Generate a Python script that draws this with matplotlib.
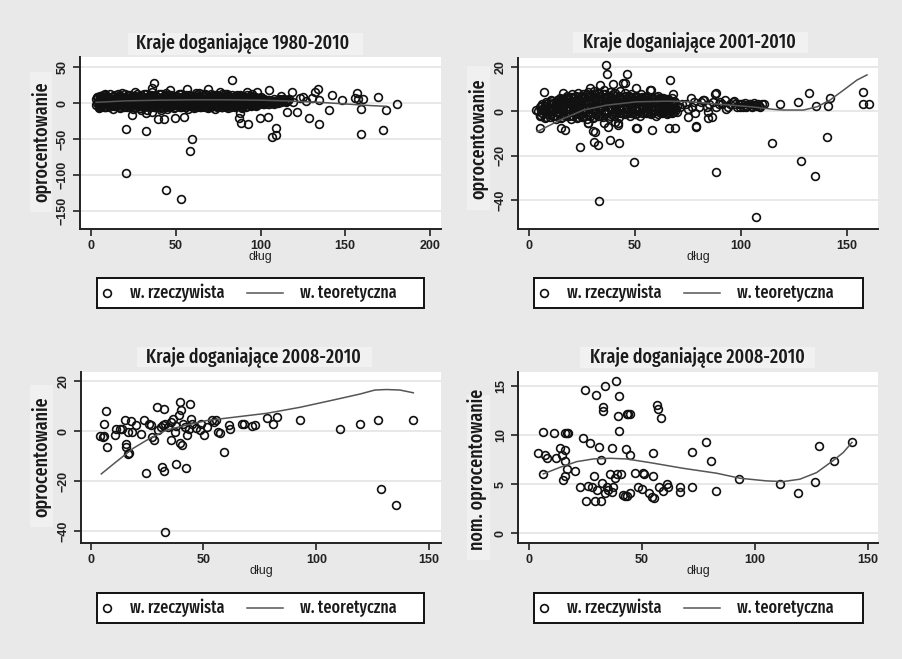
import matplotlib
matplotlib.use("Agg")
import matplotlib.pyplot as plt
from matplotlib.lines import Line2D
from matplotlib.patches import Rectangle

# ---- data ----

# panel 1: 1980-2010, dense cloud + scattered points
p1_cloud_x = [4, 7, 10, 13, 16, 19, 22, 25, 28, 31, 34, 37, 40, 43, 46, 49, 52, 55, 58, 61, 64, 67, 70, 73, 76, 79, 82, 85, 88, 91, 94, 97, 100,
              5.2, 8.2, 11.2, 14.2, 17.2, 20.2, 23.2, 26.2, 29.2, 32.2, 35.2, 38.2, 41.2, 44.2, 47.2, 50.2, 53.2, 56.2, 59.2, 62.2, 65.2, 68.2, 71.2, 74.2, 77.2, 80.2, 83.2, 86.2, 89.2, 92.2, 95.2,
              3.8, 6.8, 9.8, 12.8, 15.8, 18.8, 21.8, 24.8, 27.8, 30.8, 33.8, 36.8, 39.8, 42.8, 45.8, 48.8, 51.8, 54.8, 57.8, 60.8, 63.8, 66.8, 69.8, 72.8, 75.8, 78.8, 81.8, 84.8, 87.8, 90.8, 93.8, 96.8, 99.8,
              5.5, 8.5, 11.5, 14.5, 17.5, 20.5, 23.5, 26.5, 29.5, 32.5, 35.5, 38.5, 41.5, 44.5, 47.5, 50.5, 53.5, 56.5, 59.5, 62.5, 65.5, 68.5, 71.5, 74.5, 77.5, 80.5, 83.5, 86.5, 89.5, 92.5, 95.5, 98.5, 101.5,
              3, 6, 9, 12, 15, 18, 21, 24, 27, 30, 33, 36, 39, 42, 45, 48, 51, 54, 57, 60, 63, 66, 69, 72, 75, 78, 81, 84, 87, 90, 93, 96, 99, 102, 105, 108, 111, 114, 117,
              5.2, 8.2, 11.2, 14.2, 17.2, 20.2, 23.2, 26.2, 29.2, 32.2, 35.2, 38.2, 41.2, 44.2, 47.2, 50.2, 53.2, 56.2, 59.2, 62.2, 65.2, 68.2, 71.2, 74.2, 77.2, 80.2, 83.2, 86.2, 89.2, 92.2, 95.2, 98.2, 101.2, 104.2, 107.2, 110.2, 113.2, 116.2,
              4.5, 7.5, 10.5, 13.5, 16.5, 19.5, 22.5, 25.5, 28.5, 31.5, 34.5, 37.5, 40.5, 43.5, 46.5, 49.5, 52.5, 55.5, 58.5, 61.5, 64.5, 67.5, 70.5, 73.5, 76.5, 79.5, 82.5, 85.5, 88.5, 91.5, 94.5, 97.5, 100.5, 103.5, 106.5, 109.5, 112.5, 115.5,
              4, 7, 10, 13, 16, 19, 22, 25, 28, 31, 34, 37, 40, 43, 46, 49, 52, 55, 58, 61, 64, 67, 70, 73, 76, 79, 82, 85, 88, 91, 94, 97, 100, 103, 106, 109, 112, 115, 119,
              3.8, 6.8, 9.8, 12.8, 15.8, 18.8, 21.8, 24.8, 27.8, 30.8, 33.8, 36.8, 39.8, 42.8, 45.8, 48.8, 51.8, 54.8, 57.8, 60.8, 63.8, 66.8, 69.8, 72.8, 75.8, 78.8, 81.8, 84.8, 87.8, 90.8, 93.8, 96.8, 99.8, 102.8, 105.8, 108.8, 111.8, 114.8,
              5.5, 8.5, 11.5, 14.5, 17.5, 20.5, 23.5, 26.5, 29.5, 32.5, 35.5, 38.5, 41.5, 44.5, 47.5, 50.5, 53.5, 56.5, 59.5, 62.5, 65.5, 68.5, 71.5, 74.5, 77.5, 80.5, 83.5, 86.5, 89.5, 92.5, 95.5, 98.5, 101.5, 104.5, 107.5, 110.5,
              3, 6, 9, 12, 15, 18, 21, 24, 27, 30, 33, 36, 39, 42, 45, 48, 51, 54, 57, 60, 63, 66, 69, 72, 75, 78, 81, 84, 87, 90, 93, 96, 99, 102, 105, 108,
              5.2, 8.2, 11.2, 14.2, 17.2, 20.2, 23.2, 26.2, 29.2, 32.2, 35.2, 38.2, 41.2, 44.2, 47.2, 50.2, 53.2, 56.2, 59.2, 62.2, 65.2, 68.2, 71.2, 74.2, 77.2, 80.2, 83.2, 86.2, 89.2, 92.2, 95.2, 98.2, 101.2,
              4.5, 7.5, 10.5, 13.5, 16.5, 19.5, 22.5, 25.5, 28.5, 31.5, 34.5, 37.5, 40.5, 43.5, 46.5, 49.5, 52.5, 55.5, 58.5, 61.5, 64.5, 67.5, 70.5, 73.5, 76.5, 79.5, 82.5, 85.5, 88.5, 91.5, 94.5, 97.5,
              5, 9, 13, 17, 21, 25, 29, 33, 37, 41, 45, 49, 53, 57, 61, 65, 69, 73, 77, 81, 85, 89,
              8, 18, 27, 36, 44, 53, 62, 71, 80]
p1_cloud_y = [9, 11, 8, 10, 12, 9, 11, 10, 8, 12, 10, 9, 13, 10, 11, 9, 12, 10, 11, 9, 10, 12, 9, 11, 10, 12, 9, 10, 11, 9, 10, 8, 9,
              10, 11, 12, 11, 10, 12, 11, 10, 11, 12, 11, 10, 12, 11, 11, 10, 12, 11, 10, 11, 12, 11, 10, 11, 12, 10, 11, 11, 10, 11, 10,
              8, 9, 7, 8, 9, 8, 7, 9, 8, 8, 9, 7, 8, 9, 8, 7, 9, 8, 8, 9, 7, 8, 9, 8, 7, 9, 8, 8, 9, 7, 8, 8, 7,
              7, 8, 6, 7, 8, 7, 6, 8, 7, 7, 8, 6, 7, 8, 7, 6, 8, 7, 7, 8, 6, 7, 8, 7, 6, 8, 7, 7, 8, 6, 7, 7, 6,
              5, 6, 4, 5, 6, 5, 4, 6, 5, 4, 6, 5, 5, 4, 6, 5, 4, 6, 5, 5, 4, 6, 5, 4, 6, 5, 5, 4, 6, 5, 4, 5, 6, 5, 4, 6, 5, 6, 5,
              4, 3, 5, 4, 4, 3, 5, 4, 3, 4, 5, 4, 3, 4, 5, 4, 4, 3, 5, 4, 4, 3, 4, 5, 4, 3, 4, 4, 5, 3, 4, 4, 5, 4, 3, 4, 5, 4,
              3, 2, 4, 3, 3, 2, 4, 3, 2, 3, 4, 3, 2, 3, 4, 3, 3, 2, 4, 3, 3, 2, 3, 4, 3, 2, 3, 3, 4, 2, 3, 3, 4, 3, 2, 3, 4, 3,
              1, 0, 2, 1, 0, 2, 1, -1, 1, 2, 0, 1, 2, 0, 1, 1, 2, 0, 1, 2, 1, 0, 2, 1, 0, 1, 2, 1, 0, 2, 1, 1, 2, 1, 0, 2, 1, 3, 2,
              0, 1, -1, 0, 0, 1, -1, 0, 1, 0, -1, 0, 1, 0, 0, -1, 1, 0, 0, 1, 0, -1, 0, 1, 0, 0, -1, 1, 0, 0, 1, 0, 1, 0, 1, 1, 2, 2,
              -1, -2, 0, -1, -1, -2, 0, -1, -2, -1, 0, -1, -2, -1, -1, 0, -2, -1, -1, 0, -1, -2, -1, 0, -1, -1, -2, 0, -1, -1, 0, -1, 0, -1, 0, 0,
              -3, -4, -2, -3, -4, -3, -2, -4, -3, -3, -4, -2, -3, -4, -3, -2, -3, -4, -3, -2, -3, -4, -3, -2, -4, -3, -3, -2, -4, -3, -2, -3, -2, -1, -2, -1,
              -4, -5, -3, -4, -5, -4, -3, -5, -4, -4, -5, -3, -4, -5, -4, -3, -4, -5, -4, -3, -4, -5, -4, -3, -5, -4, -4, -3, -5, -4, -3, -3, -2,
              -5, -6, -5, -4, -6, -5, -5, -6, -4, -5, -6, -5, -5, -4, -6, -5, -5, -6, -4, -5, -5, -6, -5, -4, -5, -6, -5, -4, -5, -5, -4, -4,
              -7, -6, -8, -7, -6, -8, -7, -9, -6, -7, -8, -7, -6, -8, -7, -6, -7, -8, -6, -7, -6, -7,
              13, 14, 12, 15, 14, 13, 14, 12, 13]
p1_x = [20.6, 20.6, 24.2, 32.3, 32.3, 37.4, 35.8, 39.3, 43.3, 44.2, 49.6, 46.6, 52.9, 55.1, 56.4, 59.4, 58.4, 69.2, 83.4, 87.5,
        88.3, 92.8, 99.7, 104.6, 105.2, 106.6, 109.1, 109.1, 115.4, 121.3, 118.8, 128.8, 134.7, 132.2, 134.1, 134.7, 140.6, 142, 147.9, 157.1,
        157.7, 159.1, 159.1, 160.7, 169.1, 172.5, 174, 180.7, 87.9, 74.1, 98.1, 91.8, 62.3, 116.4, 123.3, 130.2, 155.8, 29.3, 36, 41,
        26, 64, 76, 95, 112, 125, 127]
p1_y = [-97.7, -36.6, -16.7, -38.9, -13.4, 27.3, 20.4, -22.7, -22.7, -120.8, -21.3, 18, -133.8, -19, 19, -50.5, -66.7, 19, 31.9, -21.3,
        -27.3, -29.2, -21.3, -19.9, 18, -46.8, -35.2, -44.4, -12, -12, 15.7, -21.3, -29.2, 15.7, 19, 4.2, -9.7, 11.1, 4.2, 14.4,
        5.1, -8.3, -43.5, 5.1, 8.8, -37.5, -9.7, -1.9, -13.4, -6, 15.7, 15.7, -6, 4.2, 7.4, 7.4, 7.4, -9.7, -12, -10,
        15, 14, 16, 12, 10, 9, 3]
p1_fit_x = [3, 20, 40, 60, 80, 100, 115, 125, 135, 145, 155, 165, 174]
p1_fit_y = [1, 3, 4, 4.5, 4.5, 4, 3, 2, 1, -0.5, -2, -3.5, -4.5]

# panel 2: 2001-2010
p2_cloud_x = [5, 7.5, 10, 12.5, 15, 17.5, 20, 22.5, 25, 27.5, 30, 32.5, 35, 37.5, 40, 42.5, 45, 47.5, 50, 52.5, 55, 57.5, 60, 62.5, 65, 67.5, 70,
              5.6, 8.1, 10.6, 13.1, 15.6, 18.1, 20.6, 23.1, 25.6, 28.1, 30.6, 33.1, 35.6, 38.1, 40.6, 43.1, 45.6, 48.1, 50.6, 53.1, 55.6, 58.1, 60.6, 63.1, 65.6, 68.1,
              6.25, 8.75, 11.25, 13.75, 16.25, 18.75, 21.25, 23.75, 26.25, 28.75, 31.25, 33.75, 36.25, 38.75, 41.25, 43.75, 46.25, 48.75, 51.25, 53.75, 56.25, 58.75, 61.25, 63.75, 66.25, 68.75,
              4, 6, 8.5, 11, 13.5, 16, 18.5, 21, 23.5, 26, 28.5, 31, 33.5, 36, 38.5, 41, 43.5, 46, 48.5, 51, 53.5, 56, 58.5, 61, 63.5, 66, 68.5,
              5.6, 8.1, 10.6, 13.1, 15.6, 18.1, 20.6, 23.1, 25.6, 28.1, 30.6, 33.1, 35.6, 38.1, 40.6, 43.1, 45.6, 48.1, 50.6, 53.1, 55.6, 58.1, 60.6, 63.1, 65.6, 68.1,
              6.25, 8.75, 11.25, 13.75, 16.25, 18.75, 21.25, 23.75, 26.25, 28.75, 31.25, 33.75, 36.25, 38.75, 41.25, 43.75, 46.25, 48.75, 51.25, 53.75, 56.25, 58.75, 61.25, 63.75, 66.25, 68.75,
              5, 7.5, 10, 12.5, 15, 17.5, 20, 22.5, 25, 27.5, 30, 32.5, 35, 37.5, 40, 42.5, 45, 47.5, 50, 52.5, 55, 57.5, 60, 62.5, 65, 67.5, 70,
              5.6, 8.1, 10.6, 13.1, 15.6, 18.1, 20.6, 23.1, 25.6, 28.1, 30.6, 33.1, 35.6, 38.1, 40.6, 43.1, 45.6, 48.1, 50.6, 53.1, 55.6, 58.1, 60.6, 63.1, 65.6, 68.1,
              6.25, 8.75, 11.25, 13.75, 16.25, 18.75, 21.25, 23.75, 26.25, 28.75, 31.25, 33.75, 36.25, 38.75, 41.25, 43.75, 46.25, 48.75, 51.25, 53.75, 56.25, 58.75, 61.25, 63.75, 66.25, 68.75,
              8, 11, 13.5, 16, 18.5, 21, 23.5, 26, 28.5, 31, 33.5, 36, 38.5, 41, 43.5, 46, 48.5, 51, 53.5, 56, 58.5, 61, 63.5, 66, 68.5,
              10.6, 13.1, 15.6, 18.1, 20.6, 23.1, 25.6, 28.1, 30.6, 33.1, 35.6, 38.1, 40.6, 43.1, 45.6, 48.1, 50.6, 53.1, 55.6, 58.1, 60.6, 63.1, 65.6,
              14.75, 17.25, 19.75, 22.25, 24.75, 27.25, 29.75, 32.25, 34.75, 37.25, 39.75, 42.25, 44.75, 47.25, 49.75, 52.25, 54.75, 57.25, 59.75, 62.25, 64.75, 67.25,
              18, 20.5, 23, 25.5, 28, 30.5, 33, 35.5, 38, 40.5, 43, 45.5, 48, 50.5, 53, 55.5, 58, 61,
              72, 75, 78, 80, 82, 85, 88, 90, 93, 95, 96, 98, 100, 101, 102, 103, 104, 105, 106, 107, 108, 109, 110,
              71, 74, 77, 81, 84, 87, 91, 94, 97, 99, 100.5, 102.5, 104.5, 106.5, 108.5]
p2_cloud_y = [-2, -3, -2.5, -3.5, -3, -2, -3.5, -3, -2.5, -3.5, -3, -2, -2.5, -3, -2, -2.5, -1.5, -2, -1.5, -2, -1, -1.5, -2, -1, -1.5, -1, -0.5,
              -2, -2.5, -1.5, -2, -2.5, -1.5, -2, -2.5, -2, -1.5, -2.5, -2, -1.5, -2, -1.5, -1, -1.5, -1, -1.5, -1, -0.5, -1, -1.5, -0.5, -1, -0.5,
              -1, -1.5, -2, -1, -1.5, -2, -1, -1.5, -1, -2, -1.5, -1, -1, -1.5, -0.5, -1, -0.5, -1, 0, -0.5, -1, 0, -0.5, 0, -0.5, 0,
              0, 0.5, -0.5, 0, 1, 0.5, 0, 1, 0.5, 0, 1.5, 0.5, 1, 0, 1.5, 1, 0.5, 1.5, 1, 0.5, 1.5, 1, 0.5, 1, 1.5, 0.5, 1,
              0.5, 1, 0.5, 1, 0.5, 1, 1.5, 1, 0.5, 1, 1.5, 1, 0.5, 1.5, 1, 1.5, 1, 0.5, 1.5, 1, 1.5, 1, 0.5, 1.5, 1, 1.5,
              1, 1.5, 1, 2, 1.5, 1, 2, 2.5, 1.5, 2, 2.5, 2, 2.5, 1.5, 2, 2.5, 2, 2.5, 2, 1.5, 2.5, 2, 1.5, 2, 2.5, 1.5,
              2, 2.5, 1.5, 3, 2.5, 2, 3, 3.5, 2.5, 3, 4, 3, 3.5, 4, 3, 3.5, 4, 3, 3.5, 4, 3, 3.5, 4, 3, 3.5, 3, 2.5,
              2.5, 3, 3, 3.5, 3, 3.5, 4, 4, 3.5, 4, 4.5, 4, 4.5, 4, 4.5, 4, 4.5, 4, 4, 4.5, 4, 3.5, 4, 3.5, 4, 3.5,
              3, 3.5, 3.5, 4, 4.5, 4, 4.5, 5, 4.5, 5, 5.5, 5, 5.5, 5, 5.5, 5, 4.5, 5, 4.5, 5, 4.5, 4, 4.5, 4, 4.5, 4,
              4, 4.5, 5, 5.5, 5, 6, 5.5, 6, 6.5, 6, 5.5, 6.5, 6, 5.5, 6, 5.5, 6, 5, 5.5, 5, 5.5, 5, 5.5, 5, 4.5,
              5, 5, 5.5, 6, 6.5, 6.5, 7, 7, 7.5, 7, 7.5, 7, 7, 6.5, 7, 6.5, 6, 6.5, 6, 6, 5.5, 6, 5.5,
              6, 6, 6.5, 7, 6.5, 7.5, 7, 8, 7.5, 7, 7.5, 7, 6.5, 7, 6.5, 6, 6.5, 6, 6.5, 6, 5.5, 6,
              7, 7.5, 8, 7.5, 8.5, 9, 8, 9.5, 8.5, 8, 9, 8, 7.5, 7, 7.5, 7, 6.5, 7,
              3, 1, 4, 2, 5, 3, 2, 4, 1, 3, 4, 2, 3, 2, 3.5, 2.5, 3, 2, 3.5, 2.5, 3, 2, 3,
              2, 3, 2, 4, 2, 4, 3, 2, 3, 3, 3, 2, 2.5, 2.8, 2.5]
p2_x = [36.2, 37, 46.1, 39.4, 44.5, 50.4, 66.6, 7.1, 88.1, 131.9, 157.4, 57.1, 24.1, 30.7, 32.3, 38.2, 42.5, 49.6, 50.8, 58.2,
        66.1, 68.9, 78.7, 88.3, 33.2, 107, 114.6, 128.4, 134.7, 140.6, 118.2, 126.7, 135.3, 141, 142.1, 157.6, 160.2, 78.4, 82.3, 86.3,
        89.4, 92.6, 96.5, 99.6, 103.6, 110.7, 30.4, 28, 5.2, 3.3, 17, 42.1, 16, 28.6, 33.3, 45.1, 57.7, 68, 76.4, 87.6,
        15.2, 27.8, 31, 37.3, 42, 50.6, 75, 78.9, 84.4, 84.4, 5, 40.5, 35.5]
p2_y = [20.8, 16.7, 16.7, 12.2, 12.5, 10.3, 14, 8.7, 8, 8, 8.7, 9.5, -16.3, -13.7, -15.2, -13, -14.5, -22.7, -7.7, -8.5,
        -7.7, -7.7, -7, -27.4, -40.2, -47.6, -14.5, -22.6, -29.2, -11.8, 3, 4.2, 2.3, 2.3, 5.7, 3.2, 3.2, -1, 5, -2.5,
        3, 5, 4.5, 1.7, 3, 3, -9, -5.5, -1.7, 0.5, -8.5, -5.2, 8, 10.3, 11.8, 12.5, 9.5, 7.6, 5.8, 7.6,
        -7.7, -5.5, -9.3, -7, -6.3, -7.5, -2.5, -6.6, -0.3, -3.3, -7.7, -4.7, -5.5]
p2_fit_x = [3.9, 14.6, 25.7, 36.7, 50.8, 65, 76, 88.6, 104.4, 115.4, 120, 129.5, 136, 142, 148.4, 154.7, 159.4]
p2_fit_y = [-9.2, -4, 0.5, 2.7, 4.2, 4.5, 4.2, 3.2, 2, 0.8, 0.5, 0.5, 2, 5, 9.5, 14, 16.3]

# panel 3: 2008-2010, real rate
p3_x = [4, 6, 6.7, 6, 7.4, 5.5, 10.6, 11.4, 12.9, 14, 15, 15.5, 15.8, 16.6, 16.6, 17.8, 18.5, 20.3, 22.5, 23.5,
        24.3, 25.7, 27, 28, 29.4, 32.5, 30, 31.4, 32.4, 31, 32, 33, 32.8, 34.3, 35.4, 35.4, 36.5, 38, 37.3, 39.2,
        39.5, 40.2, 39.8, 40.5, 41, 42.2, 42.8, 43.6, 44.2, 44.4, 45.1, 46.9, 48.4, 49.1, 50.1, 51.6, 53.6, 54.6, 55.5, 56.5,
        57.5, 59, 61.1, 61.7, 66.9, 67.9, 71.7, 72.8, 78, 80.6, 82.8, 92.8, 110.5, 119.4, 127.2, 128.7, 135.4, 142.8, 17, 26.9,
        38, 41.7]
p3_y = [-2, -2, 8, 3, -6.5, -2.2, -1.6, 0.8, 0.8, 0.8, 4.4, -5, -6.5, -9, -0.2, 4, -0.2, 2.4, -1, 4.4,
        -16.6, 2.8, -2.2, -3.5, 9.7, 9, 0.4, -14.2, -15.8, 1.5, 2.4, 3, -40.5, 1.8, 3.8, -3.5, 4.7, -13, -0.2, 6.4,
        11.7, 8.4, -4.6, -5.5, 3, -14.8, -1.6, 0.7, 11, 5, 3, 1.1, 0.4, 3, -1.6, 1.8, 4.4, 3.8, 4.4, -0.2,
        -0.9, -8.5, 2.4, 0.7, 2.7, 2.7, 2, 2.6, 5.3, 2.7, 5.5, 4.4, 1, 2.7, 4.4, -23, -29.5, 4.4, -8.6, 2.4,
        2.2, 1.5]
p3_fit_x = [4.7, 11.4, 18.8, 26.2, 33.6, 42.5, 51.3, 63.2, 78, 92.8, 107.5, 119.4, 126, 131.2, 137.1, 143]
p3_fit_y = [-17.1, -12.2, -6.9, -2.9, 0.4, 2.4, 4.2, 5.5, 7.1, 9.5, 12.4, 14.8, 16.4, 16.6, 16.4, 15.3]

# panel 4: 2008-2010, nominal rate
p4_x = [4.1, 6.0, 6.3, 7.1, 7.8, 11.2, 12.0, 13.7, 14.4, 15.2, 15.9, 15.9, 15.9, 16.6, 17.4, 15.9, 16.6, 20.3, 22.5, 24.0,
        24.8, 25.2, 26.2, 27.0, 27.7, 28.9, 29.2, 29.5, 29.9, 31.1, 31.7, 31.8, 32.1, 32.6, 32.9, 33.6, 33.6, 34.3, 35.0, 35.8,
        36.5, 36.5, 37.3, 38.0, 38.5, 38.8, 39.5, 39.8, 39.9, 40.5, 41.7, 42.4, 42.9, 43.2, 43.5, 43.9, 44.6, 44.6, 44.6, 46.9,
        48.4, 49.8, 50.2, 50.8, 53.0, 54.2, 55.0, 55.0, 55.3, 56.4, 56.9, 58.2, 57.6, 59.4, 61.1, 61.6, 66.7, 66.7, 71.9, 72.3,
        78.2, 80.3, 82.7, 93.0, 111.0, 119.0, 126.7, 128.3, 134.8, 142.9]
p4_y = [8.2, 10.26, 6.0, 7.96, 7.6, 10.16, 7.7, 8.7, 7.96, 5.4, 5.86, 8.47, 10.16, 10.16, 10.16, 7.3, 6.5, 6.3, 4.7, 9.65,
        14.56, 3.3, 4.8, 9.2, 4.7, 5.86, 3.3, 14.05, 4.4, 8.74, 3.3, 7.45, 5.08, 12.87, 12.43, 14.97, 4.06, 4.74, 4.4, 6.03,
        8.64, 4.16, 4.67, 5.66, 15.5, 6.03, 11.92, 13.95, 10.43, 6.03, 3.89, 3.83, 8.53, 3.79, 12.09, 12.09, 12.09, 7.96, 4.06, 6.16,
        4.67, 4.47, 6.16, 5.99, 4.06, 3.72, 8.2, 5.86, 3.62, 13.04, 12.63, 11.68, 4.67, 4.33, 5.01, 4.74, 4.67, 4.23, 4.74, 8.3,
        9.24, 7.38, 4.33, 5.52, 4.98, 4.13, 5.25, 8.87, 7.38, 9.24]
p4_fit_x = [6.3, 13.7, 21.1, 28.4, 35.8, 43.2, 53.5, 68.2, 83, 93.3, 105, 112.4, 119.8, 127.2, 134.5, 139, 142.9]
p4_fit_y = [6.03, 6.7, 7.28, 7.55, 7.62, 7.55, 7.18, 6.6, 6.1, 5.59, 5.32, 5.25, 5.49, 6.16, 7.38, 8.2, 9.24]

titles = ["Kraje doganiające 1980-2010", "Kraje doganiające 2001-2010",
          "Kraje doganiające 2008-2010", "Kraje doganiające 2008-2010"]
ylabels = ["oprocentowanie", "oprocentowanie", "oprocentowanie", "nom. oprocentowanie"]
xlabel = "dług"
legend_labels = ["w. rzeczywista", "w. teoretyczna"]

# ---- layout (pixels of a 903x659 image) ----
W, H = 903, 659
COND = ["Fira Sans Extra Condensed", "Barlow Condensed", "DejaVu Sans"]
PLAIN = ["Liberation Sans", "DejaVu Sans"]
BG = "#e9e9e9"
INK = "#1a1a1a"


def fx(x):
    return x / W


def fy(y):
    return 1 - y / H


fig = plt.figure(figsize=(W / 100, H / 100), dpi=100, facecolor=BG)

panels = [
    dict(box=(80, 57, 441, 229), xs=p1_cloud_x + p1_x, ys=p1_cloud_y + p1_y, fx_=p1_fit_x, fy_=p1_fit_y,
         xlim=(-6.5, 206.5), ylim=(-175, 64), xt=[0, 50, 100, 150, 200], yt=[-150, -100, -50, 0, 50],
         tc=(243, 43), tb=(128, 33, 363, 55), yl=(41, 142), yb=(30, 72, 52, 212), lg=(97, 278, 424, 308)),
    dict(box=(518, 58, 878, 229), xs=p2_cloud_x + p2_x, ys=p2_cloud_y + p2_y, fx_=p2_fit_x, fy_=p2_fit_y,
         xlim=(-5.2, 164.6), ylim=(-53, 23.9), xt=[0, 50, 100, 150], yt=[-40, -20, 0, 20],
         tc=(689, 42), tb=(573, 32, 808, 53), yl=(478, 139), yb=(467, 66, 490, 210), lg=(534, 278, 863, 308)),
    dict(box=(81, 372, 441, 543), xs=p3_x, ys=p3_y, fx_=p3_fit_x, fy_=p3_fit_y,
         xlim=(-4.3, 155.3), ylim=(-44.7, 23.6), xt=[0, 50, 100, 150], yt=[-40, -20, 0, 20],
         tc=(253, 357), tb=(137, 347, 372, 367), yl=(41, 457), yb=(30, 385, 53, 527), lg=(97, 593, 424, 623)),
    dict(box=(518, 372, 878, 543), xs=p4_x, ys=p4_y, fx_=p4_fit_x, fy_=p4_fit_y,
         xlim=(-4.9, 154.4), ylim=(-1.0, 16.4), xt=[0, 50, 100, 150], yt=[0, 5, 10, 15],
         tc=(697, 357), tb=(580, 347, 815, 368), yl=(477, 469), yb=(467, 395, 490, 560), lg=(534, 593, 863, 623)),
]


def backdrop(x0, y0, x1, y1, color, **kw):
    fig.patches.append(Rectangle((fx(x0), fy(y1)), (x1 - x0) / W, (y1 - y0) / H,
                                 transform=fig.transFigure, facecolor=color, zorder=0, **kw))


for i, p in enumerate(panels):
    l, t, r, b = p["box"]
    ax = fig.add_axes([fx(l), fy(b), (r - l) / W, (b - t) / H])
    ax.set_facecolor("white")

    ax.plot(p["xs"], p["ys"], "o", ms=5.6, mfc="none", mec="#111111", mew=1.2, zorder=3)
    ax.plot(p["fx_"], p["fy_"], color="#555555", lw=1.1, zorder=4)

    ax.set_xlim(*p["xlim"])
    ax.set_ylim(*p["ylim"])
    ax.set_xticks(p["xt"])
    ax.set_yticks(p["yt"])
    ax.grid(axis="y", color="#e6e6e6", lw=1.3)
    ax.set_axisbelow(True)
    for s in ["top", "right"]:
        ax.spines[s].set_visible(False)
    for s in ["left", "bottom"]:
        ax.spines[s].set_color("#222222")
        ax.spines[s].set_linewidth(1.4)
    ax.tick_params(direction="out", length=5, width=1.2, color="#222222",
                   labelsize=9, labelcolor="#222222", pad=3)
    for lab in ax.get_xticklabels() + ax.get_yticklabels():
        lab.set_family(PLAIN)
        lab.set_weight("bold")
    for lab in ax.get_yticklabels():
        lab.set_rotation(90)
        lab.set_va("center")
    ax.set_xlabel(xlabel, fontsize=9, labelpad=-1, color="#222222", family=PLAIN)

    # title with its lighter backdrop
    backdrop(*p["tb"], "#f1f1f1", edgecolor="none")
    fig.text(fx(p["tc"][0]), fy(p["tc"][1]), titles[i], ha="center", va="center",
             fontsize=14, family=COND, weight="medium", color=INK)

    # y label with backdrop
    backdrop(*p["yb"], "#f0f0f0", edgecolor="none")
    fig.text(fx(p["yl"][0]), fy(p["yl"][1]), ylabels[i], ha="center", va="center", rotation=90,
             fontsize=14, family=COND, weight="medium", color=INK)

    # legend box drawn by hand to match the Stata key layout
    x0, y0, x1, y1 = p["lg"]
    backdrop(x0, y0, x1, y1, "white", edgecolor="#111111", linewidth=1.4)
    ym = fy((y0 + y1) / 2)
    fig.add_artist(Line2D([fx(x0 + 10)], [ym], marker="o", ls="none", ms=5.6, mfc="none",
                          mec="#111111", mew=1.2, transform=fig.transFigure))
    fig.text(fx(x0 + 33), ym, legend_labels[0], ha="left", va="center",
             fontsize=12.5, family=COND, weight="medium", color=INK)
    fig.add_artist(Line2D([fx(x0 + 150), fx(x0 + 186)], [ym, ym], color="#555555", lw=1.1,
                          transform=fig.transFigure))
    fig.text(fx(x0 + 203), ym, legend_labels[1], ha="left", va="center",
             fontsize=12.5, family=COND, weight="medium", color=INK)

fig.savefig("out.png", dpi=100, facecolor=BG)
